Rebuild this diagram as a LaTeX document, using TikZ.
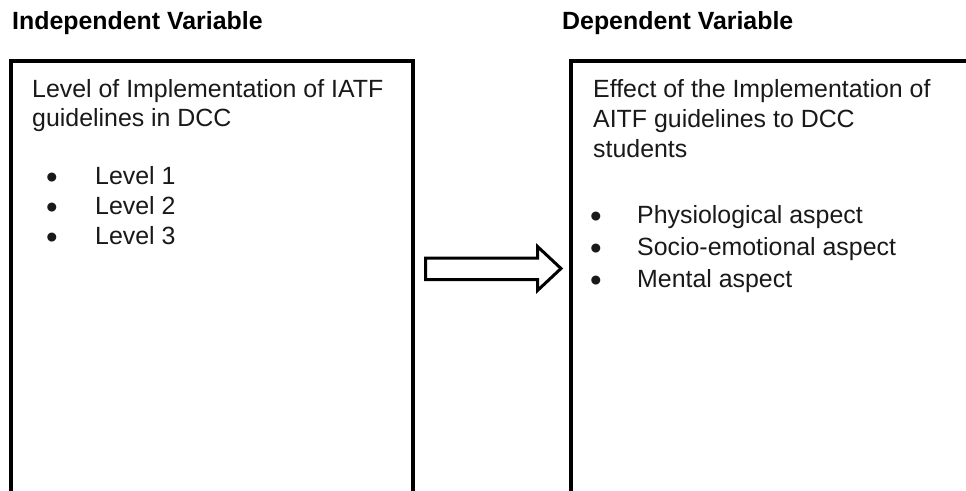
\documentclass[tikz,border=0pt]{standalone}
\usepackage{fontspec}
\setmainfont{Liberation Sans}
\newcommand{\bigbul}{\raisebox{-4pt}{\fontsize{33}{30}\selectfont•}}
\begin{document}
\begin{tikzpicture}[x=1pt,y=-1pt,
  box/.style={draw=black,line width=4pt,inner sep=0pt,outer sep=0pt,anchor=north west,minimum height=480pt},
  title/.style={anchor=base west,inner sep=0pt,font=\fontsize{24.9}{30}\selectfont\bfseries},
  body/.style={anchor=base west,inner sep=0pt,font=\fontsize{24.9}{30}\selectfont,text=black!90},
  item/.style={body},
  fatarrow/.style={draw=black,line width=3pt,fill=white,line join=miter}]
\useasboundingbox (0,0) rectangle (966,490);
\clip (0,0) rectangle (966,490);
\fill[white] (0,0) rectangle (966,490);
% boxes
\node[box,minimum width=402.5pt] (lbox) at (10.5,61) {};
\node[box,minimum width=440pt] (rbox) at (571,61) {};
% titles
\node[title] (ltitle) at (12,29.5) {Independent Variable};
\node[title] (rtitle) at (562,29.5) {Dependent Variable};
% left text
\node[body] (l1) at (32,97) {Level of Implementation of IATF};
\node[body] (l2) at (32,126) {guidelines in DCC};
\node[item] (li1) at (46,184) {\makebox[49pt][l]{\bigbul}Level 1};
\node[item] (li2) at (46,214) {\makebox[49pt][l]{\bigbul}Level 2};
\node[item] (li3) at (46,244) {\makebox[49pt][l]{\bigbul}Level 3};
% right text
\node[body] (r1) at (593,97) {Effect of the Implementation of};
\node[body] (r2) at (593,127) {AITF guidelines to DCC};
\node[body] (r3) at (593,157) {students};
\node[item] (ri1) at (590,223) {\makebox[47pt][l]{\bigbul}Physiological aspect};
\node[item] (ri2) at (590,255) {\makebox[47pt][l]{\bigbul}Socio-emotional aspect};
\node[item] (ri3) at (590,287) {\makebox[47pt][l]{\bigbul}Mental aspect};
% block arrow between the boxes
\draw[fatarrow] (425.5,258) -- (537.5,258) -- (537.5,246.5) -- (561,268.5)
  -- (537.5,290.5) -- (537.5,279.5) -- (425.5,279.5) -- cycle;
\end{tikzpicture}
\end{document}
